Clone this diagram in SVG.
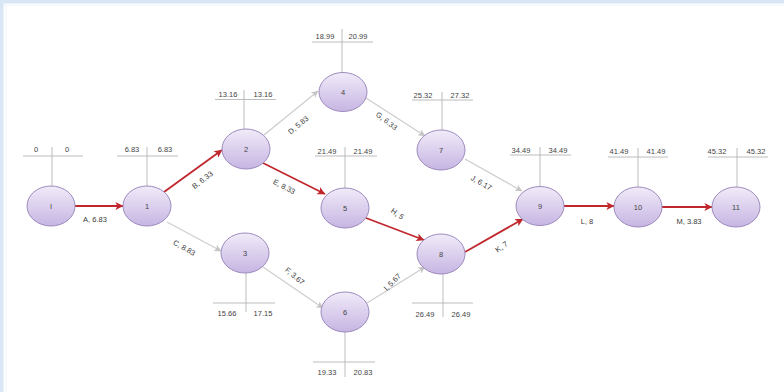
<svg xmlns="http://www.w3.org/2000/svg" width="784" height="392" viewBox="0 0 784 392">
<defs>
<linearGradient id="nodeFill" x1="0" y1="0" x2="0" y2="1">
<stop offset="0" stop-color="#f1ebf9"/>
<stop offset="1" stop-color="#c6b5e2"/>
</linearGradient>
<marker id="arrRed" viewBox="0 0 10 10" refX="9.5" refY="5" markerWidth="9" markerHeight="8" markerUnits="userSpaceOnUse" orient="auto">
<path d="M0,0 L10,5 L0,10 L2.5,5 Z" fill="#c0272d"/>
</marker>
<marker id="arrGray" viewBox="0 0 10 10" refX="9.5" refY="5" markerWidth="8" markerHeight="7" markerUnits="userSpaceOnUse" orient="auto">
<path d="M0,0 L10,5 L0,10 L2.5,5 Z" fill="#c4c4c4"/>
</marker>
</defs>
<style>
.node ellipse { fill: url(#nodeFill); stroke: #9d8bbd; stroke-width: 1; }
.node text { font-family: "Liberation Sans", Arial, sans-serif; font-size: 7.5px; fill: #444; text-anchor: middle; }
.tick line { stroke: #b4b4b4; stroke-width: 0.9; }
.val { font-family: "Liberation Sans", Arial, sans-serif; font-size: 7.5px; fill: #3c3c3c; text-anchor: middle; }
.crit { stroke: #c0272d; stroke-width: 1.8; fill: none; marker-end: url(#arrRed); }
.norm { stroke: #cdcdcd; stroke-width: 1.2; fill: none; marker-end: url(#arrGray); }
.lbl { font-family: "Liberation Sans", Arial, sans-serif; font-size: 7.5px; fill: #3a3a3a; text-anchor: middle; }
</style>
<rect x="0" y="0" width="784" height="392" fill="#ffffff"/>
<rect x="0" y="0" width="784" height="3.5" fill="#d9e6f5"/>
<rect x="0" y="0" width="3.5" height="392" fill="#d9e6f5"/>
<line x1="6" y1="4" x2="6" y2="392" stroke="#eef1f6" stroke-width="1"/>
<line x1="4" y1="5" x2="784" y2="5" stroke="#f3f4f7" stroke-width="1"/>

<g id="connectors">
<line class="crit" x1="75" y1="206" x2="123" y2="206"/>
<line class="crit" x1="164" y1="192" x2="222" y2="150"/>
<line class="norm" x1="167" y1="222" x2="221" y2="251"/>
<line class="norm" x1="264" y1="135" x2="318" y2="91"/>
<line class="crit" x1="263" y1="163" x2="325" y2="194"/>
<line class="norm" x1="263" y1="267" x2="323" y2="308"/>
<line class="norm" x1="366" y1="98" x2="425" y2="136"/>
<line class="crit" x1="366" y1="218" x2="424" y2="240"/>
<line class="norm" x1="367" y1="303" x2="425" y2="267"/>
<line class="norm" x1="465" y1="159" x2="522" y2="191"/>
<line class="crit" x1="465" y1="252" x2="523" y2="219"/>
<line class="crit" x1="564" y1="206" x2="614" y2="206"/>
<line class="crit" x1="662" y1="207" x2="712" y2="207"/>
<text class="lbl" x="95" y="222">A, 6.83</text>
<text class="lbl" transform="translate(204,182) rotate(-37)">B, 6.33</text>
<text class="lbl" transform="translate(183,250) rotate(30)">C, 8.83</text>
<text class="lbl" transform="translate(300,127) rotate(-40)">D, 5.83</text>
<text class="lbl" transform="translate(283,189) rotate(27)">E, 8.33</text>
<text class="lbl" transform="translate(293,278) rotate(40)">F, 3.67</text>
<text class="lbl" transform="translate(385,123) rotate(38)">G, 6.33</text>
<text class="lbl" transform="translate(396,216) rotate(35)">H, 5</text>
<text class="lbl" transform="translate(394,284) rotate(-45)">I, 5.67</text>
<text class="lbl" transform="translate(480,185) rotate(30)">J, 6.17</text>
<text class="lbl" transform="translate(503,249) rotate(-35)">K, 7</text>
<text class="lbl" x="587" y="224">L, 8</text>
<text class="lbl" x="689" y="224">M, 3.83</text>
</g>

<g id="node-I" class="node">
<g class="tick"><line x1="23" y1="156" x2="83" y2="156"/><line x1="52" y1="147" x2="52" y2="186"/></g>
<text class="val" x="36" y="152">0</text><text class="val" x="67" y="152">0</text>
<ellipse cx="51" cy="206" rx="24" ry="20"/><text x="51" y="209">I</text>
</g>
<g id="node-1" class="node">
<g class="tick"><line x1="117" y1="156" x2="178" y2="156"/><line x1="147" y1="147" x2="147" y2="186"/></g>
<text class="val" x="132" y="152">6.83</text><text class="val" x="165" y="152">6.83</text>
<ellipse cx="147" cy="206" rx="24" ry="20"/><text x="147" y="209">1</text>
</g>
<g id="node-2" class="node">
<g class="tick"><line x1="215" y1="99.5" x2="276" y2="99.5"/><line x1="244" y1="90" x2="244" y2="129"/></g>
<text class="val" x="228" y="96.5">13.16</text><text class="val" x="263" y="96.5">13.16</text>
<ellipse cx="246" cy="149" rx="24" ry="20"/><text x="246" y="152">2</text>
</g>
<g id="node-3" class="node">
<g class="tick"><line x1="213" y1="303" x2="275" y2="303"/><line x1="246" y1="273" x2="246" y2="312"/></g>
<text class="val" x="227" y="315.5">15.66</text><text class="val" x="263" y="315.5">17.15</text>
<ellipse cx="245" cy="253" rx="24" ry="20"/><text x="245" y="256">3</text>
</g>
<g id="node-4" class="node">
<g class="tick"><line x1="312" y1="42" x2="373" y2="42"/><line x1="342" y1="29" x2="342" y2="72"/></g>
<text class="val" x="325" y="38.5">18.99</text><text class="val" x="358" y="38.5">20.99</text>
<ellipse cx="343" cy="92" rx="24" ry="19.5"/><text x="343" y="95">4</text>
</g>
<g id="node-5" class="node">
<g class="tick"><line x1="315" y1="156" x2="377" y2="156"/><line x1="345" y1="147" x2="345" y2="188"/></g>
<text class="val" x="327" y="153.5">21.49</text><text class="val" x="363" y="153.5">21.49</text>
<ellipse cx="345" cy="208" rx="24" ry="20"/><text x="345" y="211">5</text>
</g>
<g id="node-6" class="node">
<g class="tick"><line x1="313" y1="362" x2="375" y2="362"/><line x1="345" y1="332" x2="345" y2="377"/></g>
<text class="val" x="327" y="374.5">19.33</text><text class="val" x="363" y="374.5">20.83</text>
<ellipse cx="345" cy="312" rx="24" ry="20"/><text x="345" y="315">6</text>
</g>
<g id="node-7" class="node">
<g class="tick"><line x1="412" y1="100" x2="473" y2="100"/><line x1="442" y1="92" x2="442" y2="130"/></g>
<text class="val" x="423" y="97.5">25.32</text><text class="val" x="460" y="97.5">27.32</text>
<ellipse cx="441" cy="150" rx="24" ry="20"/><text x="441" y="153">7</text>
</g>
<g id="node-8" class="node">
<g class="tick"><line x1="412" y1="303" x2="473" y2="303"/><line x1="443" y1="273" x2="443" y2="317"/></g>
<text class="val" x="425" y="316.5">26.49</text><text class="val" x="461" y="316.5">26.49</text>
<ellipse cx="441" cy="254" rx="24" ry="20"/><text x="441" y="257">8</text>
</g>
<g id="node-9" class="node">
<g class="tick"><line x1="510" y1="155" x2="571" y2="155"/><line x1="540" y1="147" x2="540" y2="187"/></g>
<text class="val" x="521" y="152.5">34.49</text><text class="val" x="558" y="152.5">34.49</text>
<ellipse cx="540" cy="206" rx="24" ry="19.5"/><text x="540" y="209">9</text>
</g>
<g id="node-10" class="node">
<g class="tick"><line x1="608" y1="157" x2="668" y2="157"/><line x1="638" y1="148" x2="638" y2="187"/></g>
<text class="val" x="619" y="154">41.49</text><text class="val" x="656" y="154">41.49</text>
<ellipse cx="638" cy="207" rx="24" ry="20"/><text x="638" y="210">10</text>
</g>
<g id="node-11" class="node">
<g class="tick"><line x1="708" y1="157" x2="768" y2="157"/><line x1="737" y1="148" x2="737" y2="187"/></g>
<text class="val" x="717" y="154">45.32</text><text class="val" x="756" y="154">45.32</text>
<ellipse cx="736" cy="207" rx="24" ry="20"/><text x="736" y="210">11</text>
</g>
</svg>
